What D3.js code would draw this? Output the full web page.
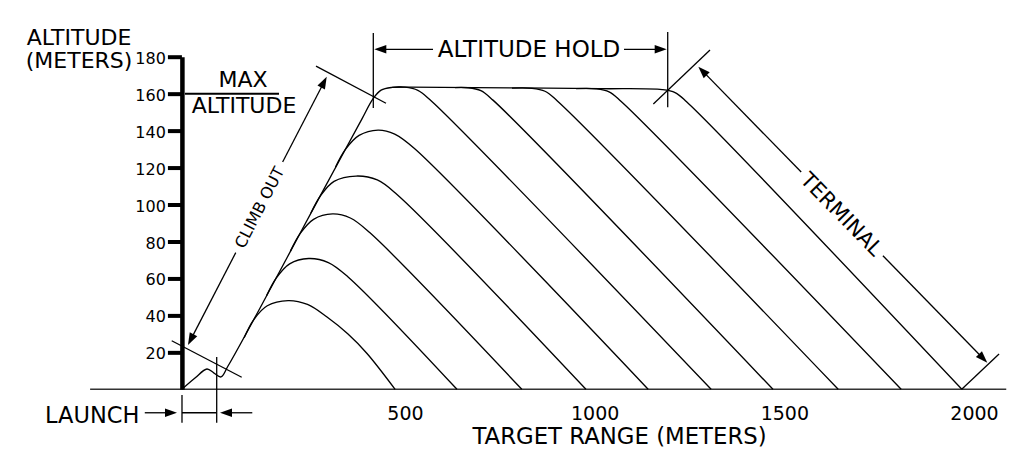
<!DOCTYPE html>
<html><head><meta charset="utf-8">
<script src="https://cdn.jsdelivr.net/npm/d3@7/dist/d3.min.js"></script>
<style>
body{margin:0;background:#fff}
svg{display:block}
text{font-family:"DejaVu Sans",sans-serif;fill:#000}
</style>
</head><body>
<svg id="c" width="1024" height="465"></svg>
<script>
// ---- data (range in meters, altitude in meters) ----
const xTicks = [500, 1000, 1500, 2000];
const yTicks = [20, 40, 60, 80, 100, 120, 140, 160, 180];
const launchRange = -88;            // launch point (y axis sits here)
const groundExtent = [-330, 2085];
const maxAltitude = 160;

// launch, climb-out, altitude hold and final terminal dive
const mainProfile = [
  [-88,0],[-53.5,6.1],[-22,11],[-3.4,8.8],[15,6.7],[33.5,12.6],[118,44],[231,87.3],
  [342,129.5],[387,146.5],[416,157.3],[437,161.9],[466,163.4],[513,163.5],[803,163.1],
  [1014,162.7],[1178,162.2],[1212,160.6],[1243,155.5],[1968,0]
];
// trajectories leaving the altitude hold
const holdDescents = [
  [[466,163.4],[500,163.5],[534,161.8],[566,156.7],[1307,0]],
  [[632,163.3],[666,163.2],[700,161.6],[732,156.5],[1470,0]],
  [[782,163.0],[835,162.9],[869,161.3],[901,156.2],[1642,0]],
  [[951,162.7],[1004,162.6],[1038,161.0],[1070,155.8],[1808,0]]
];
// trajectories branching from the climb-out (peaks ~48, 71, 95, 115, 140 m)
const climbBranches = [
  [[76,27.9],[101,37.6],[137,45.2],[192,48],[243,45.9],[294.5,39.1],[349.8,29.9],[399.9,19.4],[474,0]],
  [[135,50.6],[161,60.3],[196,67.9],[246,70.8],[298,68.6],[350,60.8],[637,0]],
  [[198,74.8],[224,84.4],[259,92],[309,94.9],[356,92.7],[407,84.8],[808,0]],
  [[252,95.4],[278,104.9],[313,112.5],[371,115.4],[427,113.3],[479,105.4],[977,0]],
  [[317,120.3],[343,129.8],[379,137.4],[429,140.3],[473,138.1],[525,130.3],[1141,0]]
];

// ---- drawing ----
const svg = d3.select("#c");
const x = d3.scaleLinear().domain([0, 2000]).range([215.3, 974]);
const y = d3.scaleLinear().domain([0, 180]).range([389.3, 56.7]);
const FONT = '"DejaVu Sans", sans-serif';

const line = d3.line().x(d => x(d[0])).y(d => y(d[1])).curve(d3.curveCatmullRom.alpha(0.5));

// ground
svg.append("line")
  .attr("x1", x(groundExtent[0])).attr("x2", x(groundExtent[1]))
  .attr("y1", y(0)).attr("y2", y(0))
  .attr("stroke", "#333").attr("stroke-width", 1.6);

// trajectories
const traj = svg.append("g").attr("fill", "none").attr("stroke", "#000").attr("stroke-width", 1.35);
[mainProfile, ...holdDescents, ...climbBranches].forEach(p => traj.append("path").attr("d", line(p)));

// y axis
svg.append("g")
  .attr("transform", `translate(${x(launchRange)},0)`)
  .call(d3.axisLeft(y).tickValues(yTicks).tickSize(14).tickSizeOuter(0).tickPadding(2).tickFormat(d3.format("d")))
  .attr("font-family", FONT).attr("font-size", 16)
  .call(g => {
    g.select(".domain").attr("stroke", "#000").attr("stroke-width", 4.5);
    g.selectAll(".tick line").attr("stroke", "#000").attr("stroke-width", 4);
    g.selectAll(".tick text").attr("fill", "#000").attr("dy", "0.41em");
  });

// x axis labels
svg.append("g")
  .attr("transform", `translate(0,${y(0)})`)
  .call(d3.axisBottom(x).tickValues(xTicks).tickSize(0).tickPadding(17.2).tickFormat(d3.format("d")))
  .attr("font-family", FONT).attr("font-size", 19)
  .call(g => { g.select(".domain").remove(); g.selectAll(".tick text").attr("fill", "#000"); });

// ---- annotations ----
const ink = svg.append("g");
function seg(x1, y1, x2, y2, w = 1.3) {
  ink.append("line").attr("x1", x1).attr("y1", y1).attr("x2", x2).attr("y2", y2)
    .attr("stroke", "#000").attr("stroke-width", w);
}
function head(tx, ty, fx, fy, L = 12, W = 4.2) {
  const dx = tx - fx, dy = ty - fy, d = Math.hypot(dx, dy), ux = dx / d, uy = dy / d;
  const bx = tx - ux * L, by = ty - uy * L;
  ink.append("path")
    .attr("d", `M${tx},${ty}L${bx - uy * W},${by + ux * W}L${bx + uy * W},${by - ux * W}Z`)
    .attr("fill", "#000");
}
function txt(s, px, py, size, anchor = "middle") {
  return ink.append("text").attr("x", px).attr("y", py).attr("font-size", size)
    .attr("text-anchor", anchor).text(s);
}
function labeledArrow(p1, p2, c, gap, label, size) {
  const A = [x(p1[0]), y(p1[1])], B = [x(p2[0]), y(p2[1])];
  const dx = B[0] - A[0], dy = B[1] - A[1], d = Math.hypot(dx, dy), ux = dx / d, uy = dy / d;
  const C0 = [x(c[0]), y(c[1])];
  const t = (C0[0] - A[0]) * ux + (C0[1] - A[1]) * uy;
  const C = [A[0] + ux * t, A[1] + uy * t];
  seg(A[0] + ux * 8, A[1] + uy * 8, C[0] - ux * gap, C[1] - uy * gap);
  seg(C[0] + ux * gap, C[1] + uy * gap, B[0] - ux * 8, B[1] - uy * 8);
  head(A[0], A[1], B[0], B[1]);
  head(B[0], B[1], A[0], A[1]);
  const ang = Math.atan2(dy, dx) * 180 / Math.PI;
  ink.append("text").attr("transform", `translate(${C[0]},${C[1]}) rotate(${ang})`)
    .attr("font-size", size).attr("text-anchor", "middle").attr("dy", "0.36em").text(label);
}

// axis titles
txt("ALTITUDE", x(-359), y(186.3), 22);
txt("(METERS)", x(-359), y(173.9), 22);
txt("TARGET RANGE (METERS)", x(1065.6), y(-29.6), 22.8);

// max altitude
seg(x(-79.9), y(maxAltitude), x(167.9), y(maxAltitude), 2);
txt("MAX", x(73), y(163.6), 22);
txt("ALTITUDE", x(75.7), y(149.5), 22);

// altitude hold
seg(x(416.5), y(152.2), x(416.5), y(192.8));
seg(x(1192.6), y(152.7), x(1192.6), y(193.3));
seg(x(573.9), y(184), x(416.5) + 8, y(184));
head(x(416.5) + 1, y(184), x(573.9), y(184));
seg(x(1077.4), y(184), x(1192.6) - 8, y(184));
head(x(1192.6) - 1, y(184), x(1077.4), y(184));
txt("ALTITUDE HOLD", x(827), y(180), 23);

// climb out
seg(x(265.5), y(174.9), x(450), y(154.8));
seg(x(-114.9), y(26.3), x(69.6), y(6.5));
labeledArrow([-72, 24], [293.7, 169.1], [116.5, 98.4], 51, "CLIMB OUT", 16);

// terminal
seg(x(1154.7), y(154.4), x(1304.1), y(183.6));
seg(x(1967.7), y(0), x(2066), y(19.1));
labeledArrow([1273.3, 174.6], [2035.1, 14.4], [1652.1, 94.9], 58.5, "TERMINAL", 21);

// launch
txt("LAUNCH", x(-200), y(-18), 22.5, "end");
seg(x(-87.8), y(-3.1), x(-87.8), y(-18.1));
seg(x(3.7), y(17.5), x(3.7), y(-18.1));
seg(x(-87.8), y(-12.7), x(3.7), y(-12.7));
seg(x(-185.9), y(-12.7), x(-101) - 8, y(-12.7));
head(x(-101), y(-12.7), x(-185.9), y(-12.7));
seg(x(97.5), y(-12.7), x(12.4) + 8, y(-12.7));
head(x(12.4), y(-12.7), x(97.5), y(-12.7));
</script>
</body></html>
